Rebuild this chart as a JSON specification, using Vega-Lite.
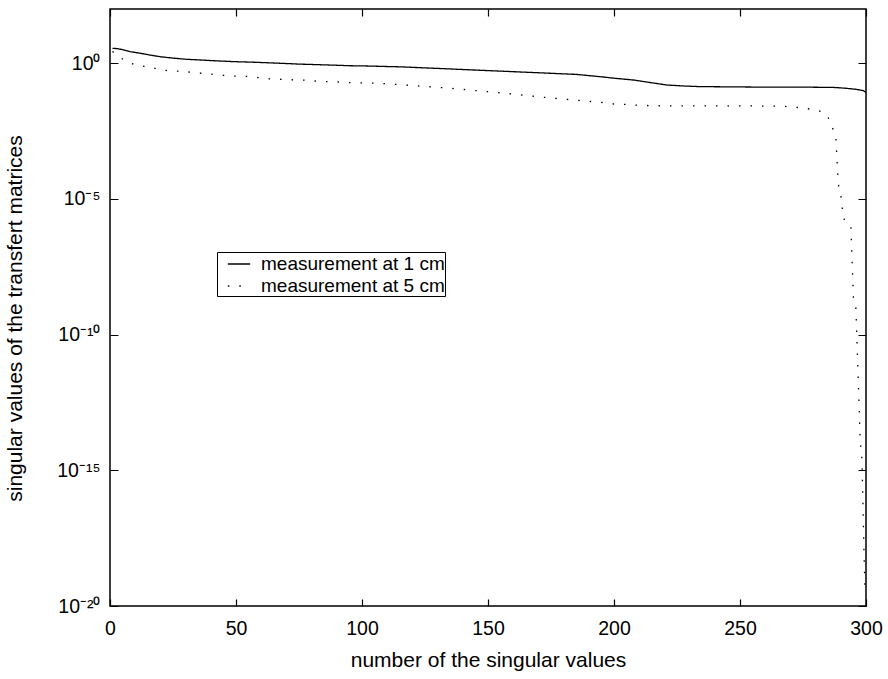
{
  "$schema": "https://vega.github.io/schema/vega-lite/v6.json",
  "width": 756,
  "height": 597,
  "autosize": "none",
  "padding": {"left": 110, "top": 9, "right": 22, "bottom": 73},
  "background": "white",
  "config": {
    "view": {"stroke": "black", "strokeWidth": 1.5},
    "font": "Liberation Sans",
    "axis": {
      "domain": false,
      "ticks": false,
      "grid": true,
      "gridColor": "black",
      "gridOpacity": 1,
      "gridWidth": 1.2,
      "labelColor": "black",
      "titleColor": "black",
      "labelFont": "Liberation Sans",
      "titleFont": "Liberation Sans",
      "labelFontSize": 19.5,
      "titleFontSize": 21,
      "titleFontWeight": "normal",
      "labelOverlap": false,
      "labelFlush": false
    }
  },
  "datasets": {
    "curves": [
      {"n": 1, "sv": 3.55, "series": "measurement at 1 cm"},
      {"n": 3, "sv": 3.47, "series": "measurement at 1 cm"},
      {"n": 5, "sv": 3.16, "series": "measurement at 1 cm"},
      {"n": 8, "sv": 2.69, "series": "measurement at 1 cm"},
      {"n": 12, "sv": 2.34, "series": "measurement at 1 cm"},
      {"n": 16, "sv": 2.0, "series": "measurement at 1 cm"},
      {"n": 20, "sv": 1.74, "series": "measurement at 1 cm"},
      {"n": 25, "sv": 1.55, "series": "measurement at 1 cm"},
      {"n": 30, "sv": 1.41, "series": "measurement at 1 cm"},
      {"n": 36, "sv": 1.32, "series": "measurement at 1 cm"},
      {"n": 42, "sv": 1.23, "series": "measurement at 1 cm"},
      {"n": 49, "sv": 1.15, "series": "measurement at 1 cm"},
      {"n": 56, "sv": 1.1, "series": "measurement at 1 cm"},
      {"n": 62, "sv": 1.05, "series": "measurement at 1 cm"},
      {"n": 70, "sv": 0.977, "series": "measurement at 1 cm"},
      {"n": 75, "sv": 0.933, "series": "measurement at 1 cm"},
      {"n": 82, "sv": 0.891, "series": "measurement at 1 cm"},
      {"n": 89, "sv": 0.851, "series": "measurement at 1 cm"},
      {"n": 95, "sv": 0.813, "series": "measurement at 1 cm"},
      {"n": 102, "sv": 0.794, "series": "measurement at 1 cm"},
      {"n": 110, "sv": 0.759, "series": "measurement at 1 cm"},
      {"n": 115, "sv": 0.741, "series": "measurement at 1 cm"},
      {"n": 125, "sv": 0.676, "series": "measurement at 1 cm"},
      {"n": 135, "sv": 0.617, "series": "measurement at 1 cm"},
      {"n": 145, "sv": 0.562, "series": "measurement at 1 cm"},
      {"n": 155, "sv": 0.513, "series": "measurement at 1 cm"},
      {"n": 165, "sv": 0.468, "series": "measurement at 1 cm"},
      {"n": 175, "sv": 0.427, "series": "measurement at 1 cm"},
      {"n": 185, "sv": 0.389, "series": "measurement at 1 cm"},
      {"n": 194, "sv": 0.324, "series": "measurement at 1 cm"},
      {"n": 200, "sv": 0.282, "series": "measurement at 1 cm"},
      {"n": 208, "sv": 0.24, "series": "measurement at 1 cm"},
      {"n": 215, "sv": 0.191, "series": "measurement at 1 cm"},
      {"n": 221, "sv": 0.158, "series": "measurement at 1 cm"},
      {"n": 228, "sv": 0.145, "series": "measurement at 1 cm"},
      {"n": 234, "sv": 0.138, "series": "measurement at 1 cm"},
      {"n": 247, "sv": 0.135, "series": "measurement at 1 cm"},
      {"n": 260, "sv": 0.132, "series": "measurement at 1 cm"},
      {"n": 275, "sv": 0.132, "series": "measurement at 1 cm"},
      {"n": 287, "sv": 0.129, "series": "measurement at 1 cm"},
      {"n": 292, "sv": 0.12, "series": "measurement at 1 cm"},
      {"n": 296, "sv": 0.11, "series": "measurement at 1 cm"},
      {"n": 299, "sv": 0.0977, "series": "measurement at 1 cm"},
      {"n": 300, "sv": 0.0832, "series": "measurement at 1 cm"},
      {"n": 1, "sv": 2.69, "series": "measurement at 5 cm"},
      {"n": 3, "sv": 1.86, "series": "measurement at 5 cm"},
      {"n": 7, "sv": 1.1, "series": "measurement at 5 cm"},
      {"n": 11, "sv": 0.813, "series": "measurement at 5 cm"},
      {"n": 16, "sv": 0.741, "series": "measurement at 5 cm"},
      {"n": 20, "sv": 0.562, "series": "measurement at 5 cm"},
      {"n": 25, "sv": 0.525, "series": "measurement at 5 cm"},
      {"n": 30, "sv": 0.49, "series": "measurement at 5 cm"},
      {"n": 34, "sv": 0.447, "series": "measurement at 5 cm"},
      {"n": 39, "sv": 0.407, "series": "measurement at 5 cm"},
      {"n": 44, "sv": 0.363, "series": "measurement at 5 cm"},
      {"n": 49, "sv": 0.339, "series": "measurement at 5 cm"},
      {"n": 54, "sv": 0.331, "series": "measurement at 5 cm"},
      {"n": 58, "sv": 0.302, "series": "measurement at 5 cm"},
      {"n": 63, "sv": 0.269, "series": "measurement at 5 cm"},
      {"n": 68, "sv": 0.257, "series": "measurement at 5 cm"},
      {"n": 73, "sv": 0.245, "series": "measurement at 5 cm"},
      {"n": 77, "sv": 0.24, "series": "measurement at 5 cm"},
      {"n": 82, "sv": 0.219, "series": "measurement at 5 cm"},
      {"n": 87, "sv": 0.209, "series": "measurement at 5 cm"},
      {"n": 91, "sv": 0.204, "series": "measurement at 5 cm"},
      {"n": 96, "sv": 0.191, "series": "measurement at 5 cm"},
      {"n": 101, "sv": 0.191, "series": "measurement at 5 cm"},
      {"n": 107, "sv": 0.182, "series": "measurement at 5 cm"},
      {"n": 112, "sv": 0.17, "series": "measurement at 5 cm"},
      {"n": 120, "sv": 0.151, "series": "measurement at 5 cm"},
      {"n": 135, "sv": 0.12, "series": "measurement at 5 cm"},
      {"n": 155, "sv": 0.0813, "series": "measurement at 5 cm"},
      {"n": 175, "sv": 0.0525, "series": "measurement at 5 cm"},
      {"n": 190, "sv": 0.0398, "series": "measurement at 5 cm"},
      {"n": 196, "sv": 0.0355, "series": "measurement at 5 cm"},
      {"n": 200, "sv": 0.0316, "series": "measurement at 5 cm"},
      {"n": 205, "sv": 0.0302, "series": "measurement at 5 cm"},
      {"n": 210, "sv": 0.0282, "series": "measurement at 5 cm"},
      {"n": 220, "sv": 0.0269, "series": "measurement at 5 cm"},
      {"n": 250, "sv": 0.0269, "series": "measurement at 5 cm"},
      {"n": 265, "sv": 0.0263, "series": "measurement at 5 cm"},
      {"n": 270, "sv": 0.0251, "series": "measurement at 5 cm"},
      {"n": 275, "sv": 0.0224, "series": "measurement at 5 cm"},
      {"n": 280, "sv": 0.0191, "series": "measurement at 5 cm"},
      {"n": 283, "sv": 0.0158, "series": "measurement at 5 cm"},
      {"n": 285, "sv": 0.01, "series": "measurement at 5 cm"},
      {"n": 286.5, "sv": 0.00457, "series": "measurement at 5 cm"},
      {"n": 288, "sv": 0.00209, "series": "measurement at 5 cm"},
      {"n": 289, "sv": 3.55e-5, "series": "measurement at 5 cm"},
      {"n": 290, "sv": 1.41e-5, "series": "measurement at 5 cm"},
      {"n": 291, "sv": 1.91e-6, "series": "measurement at 5 cm"},
      {"n": 294, "sv": 1.02e-6, "series": "measurement at 5 cm"},
      {"n": 295, "sv": 2.24e-9, "series": "measurement at 5 cm"},
      {"n": 296, "sv": 9.12e-10, "series": "measurement at 5 cm"},
      {"n": 297.7, "sv": 1.26e-14, "series": "measurement at 5 cm"},
      {"n": 298.4, "sv": 2.51e-15, "series": "measurement at 5 cm"},
      {"n": 299.2, "sv": 1e-18, "series": "measurement at 5 cm"},
      {"n": 299.6, "sv": 3.98e-20, "series": "measurement at 5 cm"}
    ]
  },
  "data": {"name": "curves"},
  "layer": [
    {
      "mark": {"type": "line", "color": "black", "strokeWidth": 1.3, "strokeCap": "butt", "clip": true},
      "encoding": {
        "x": {
          "field": "n",
          "type": "quantitative",
          "scale": {"domain": [0, 300], "nice": false, "zero": false},
          "axis": {
            "orient": "bottom",
            "values": [50, 100, 150, 200, 250, 0, 300],
            "gridDash": [7, 583, 7],
            "labelPadding": 28,
            "labelBaseline": "alphabetic",
            "title": "number of the singular values",
            "titleBaseline": "alphabetic",
            "titleY": 60
          }
        },
        "y": {
          "field": "sv",
          "type": "quantitative",
          "scale": {"type": "log", "domain": [1e-20, 100], "nice": false},
          "axis": {
            "orient": "left",
            "values": [1e-20, 1e-15, 1e-10, 1e-5, 1],
            "gridDash": [8, 740, 8],
            "labelPadding": 10,
            "labelExpr": "round(log(datum.value)/LN10) == 0 ? '10⁰' : round(log(datum.value)/LN10) == -5 ? '10⁻⁵' : round(log(datum.value)/LN10) == -10 ? '10⁻¹⁰' : round(log(datum.value)/LN10) == -15 ? '10⁻¹⁵' : round(log(datum.value)/LN10) == -20 ? '10⁻²⁰' : ''",
            "title": "singular values of the transfert matrices",
            "titleBaseline": "alphabetic",
            "titleAngle": -90,
            "titleX": -89,
            "titleY": 309
          }
        },
        "strokeDash": {
          "field": "series",
          "type": "nominal",
          "scale": {"domain": ["measurement at 1 cm", "measurement at 5 cm"], "range": [[1, 0], [1.5, 10]]},
          "legend": {
            "orient": "none",
            "legendX": 107,
            "legendY": 243,
            "title": null,
            "strokeColor": "black",
            "fillColor": "white",
            "padding": 0,
            "labelFont": "Liberation Sans",
            "labelFontSize": 19,
            "labelColor": "black",
            "labelLimit": 400,
            "symbolType": "stroke",
            "symbolSize": 500,
            "symbolStrokeWidth": 1.3,
            "symbolStrokeColor": "black",
            "labelOffset": 10,
            "rowPadding": 0,
            "symbolOffset": 10
          }
        }
      }
    },
    {
      "mark": {"type": "line", "opacity": 0},
      "encoding": {
        "x": {"field": "n", "type": "quantitative", "axis": null},
        "y": {
          "field": "sv",
          "type": "quantitative",
          "axis": {
            "orient": "right",
            "values": [1e-19, 1e-18, 1e-17, 1e-16, 1e-14, 1e-13, 1e-12, 1e-11, 1e-9, 1e-8, 1e-7, 1e-6, 1e-4, 1e-3, 1e-2, 1e-1, 10],
            "gridDash": [4, 748, 4],
            "labels": false,
            "title": null
          }
        },
        "detail": {"field": "series", "type": "nominal"}
      }
    }
  ],
  "resolve": {"axis": {"x": "independent", "y": "independent"}}
}
